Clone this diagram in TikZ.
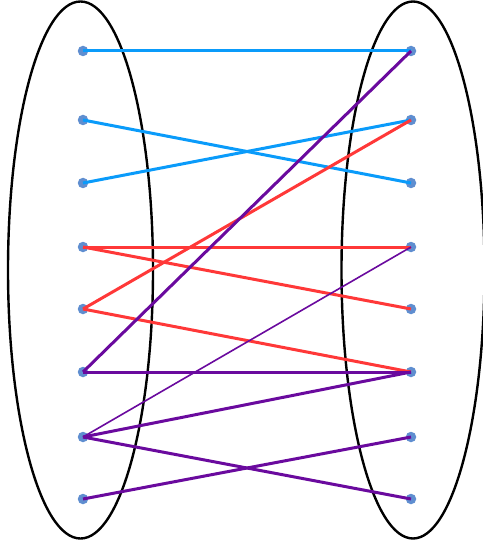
\documentclass[tikz,border=0pt]{standalone}
\definecolor{eblue}{HTML}{0A9BFA}
\definecolor{ered}{HTML}{FF3838}
\definecolor{epurple}{HTML}{6A0A9E}
\definecolor{dotc}{HTML}{5F8ED0}
\tikzset{
  set/.style={draw=black, line width=2.4pt},
  pt/.style={circle, fill=dotc, inner sep=0pt, minimum size=10.5pt},
  eb/.style={eblue, line width=3pt},
  er/.style={ered, line width=3pt},
  ep/.style={epurple, line width=3pt},
  epthin/.style={epurple, line width=1.6pt},
}
\begin{document}
\begin{tikzpicture}[x=1pt,y=-1pt]
\useasboundingbox (0,0) rectangle (482,545);
\draw[set] (80.5,270) ellipse [x radius=72.5, y radius=268.5];
\draw[set] (413,270) ellipse [x radius=71.5, y radius=268.5];
\foreach \i/\y in {1/51,2/120,3/183,4/247,5/309,6/372,7/437,8/499}{
  \node[pt] (L\i) at (83,\y) {};
  \node[pt] (R\i) at (411,\y) {};
}
\draw[eb] (L1.center) -- (R1.center);
\draw[eb] (L2.center) -- (R3.center);
\draw[eb] (L3.center) -- (R2.center);
\draw[er] (L4.center) -- (R4.center);
\draw[er] (L4.center) -- (R5.center);
\draw[er] (L5.center) -- (R2.center);
\draw[er] (L5.center) -- (R6.center);
\draw[ep] (L6.center) -- (R1.center);
\draw[ep] (L6.center) -- (R6.center);
\draw[epthin] (L7.center) -- (R4.center);
\draw[ep] (L7.center) -- (R6.center);
\draw[ep] (L7.center) -- (R8.center);
\draw[ep] (L8.center) -- (R7.center);
\end{tikzpicture}
\end{document}
